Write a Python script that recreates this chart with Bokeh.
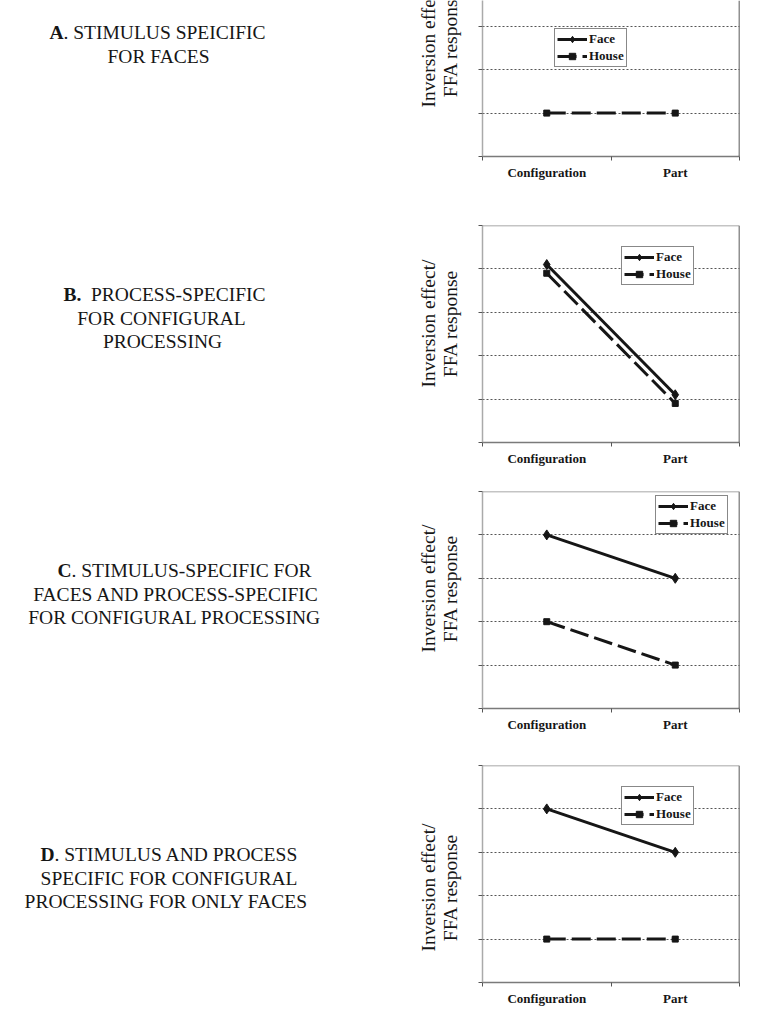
import math
from bokeh.plotting import figure
from bokeh.models import (Range1d, FixedTicker, LinearAxis, Legend, LegendItem,
                          ColumnDataSource, Grid, Span)
from bokeh.layouts import row, column
from bokeh.embed import file_html
from bokeh.resources import INLINE
from bokeh.core.properties import value

# ---------------- data ----------------
categories = ["Configuration", "Part"]
face_a = [4.0, 4.0]      # above the cropped top of panel A
house_a = [1.0, 1.0]
face_b = [4.1, 1.1]
house_b = [3.9, 0.9]
face_c = [4.0, 3.0]
house_c = [2.0, 1.0]
face_d = [4.0, 3.0]
house_d = [1.0, 1.0]
y_ticks = [0, 1, 2, 3, 4, 5]
grid_ticks = [1, 2, 3, 4]
series_names = ["Face", "House"]
ylabel_lines = ["Inversion effect/", "FFA response"]

panel_letters = ["A", "B.", "C", "D"]
panel_first_rest = [". STIMULUS SPEICIFIC", "PROCESS-SPECIFIC",
                    ". STIMULUS-SPECIFIC FOR", ". STIMULUS AND PROCESS"]
panel_more_lines = [["FOR FACES"],
                    ["FOR CONFIGURAL", "PROCESSING"],
                    ["FACES AND PROCESS-SPECIFIC", "FOR CONFIGURAL PROCESSING"],
                    ["SPECIFIC FOR CONFIGURAL", "PROCESSING FOR ONLY FACES"]]

SERIF = "Liberation Serif"
INK = "#161616"
BIG = "19.5px"

# ---------------- chart panels ----------------
n = len(categories)
x_centers = [i + 0.5 for i in range(n)]
x_bounds = list(range(n + 1))


def make_chart(face, house, height, b_top, b_bottom, frame_h, legend_loc, top_border=True):
    y_end = 5 * frame_h / 217.0
    p = figure(width=277, height=height, output_backend="svg", toolbar_location=None,
               x_range=Range1d(0, n), y_range=Range1d(0, y_end),
               x_axis_type=None, y_axis_type=None,
               min_border_left=12, min_border_right=8,
               min_border_top=b_top, min_border_bottom=b_bottom,
               outline_line_color=None,
               background_fill_color="white", border_fill_color="white")

    p.add_layout(Grid(dimension=1, ticker=FixedTicker(ticks=grid_ticks),
                      grid_line_color="#555", grid_line_dash="2 2", grid_line_width=1))

    # right and top borders of the plot area
    p.add_layout(Span(location=n, dimension="height", line_color="#222222",
                      line_width=1.5))
    if top_border:
        p.add_layout(Span(location=y_end, dimension="width", line_color="#8a8a8a",
                          line_width=1.5))

    xa = LinearAxis(ticker=FixedTicker(ticks=x_centers, minor_ticks=x_bounds),
                    major_label_overrides={c: lab for c, lab in zip(x_centers, categories)},
                    axis_line_color="#7a7a7a", axis_line_width=1.5,
                    major_tick_out=0, major_tick_in=0,
                    minor_tick_out=4, minor_tick_in=0, minor_tick_line_color="#555",
                    major_label_text_font=SERIF, major_label_text_font_style="bold",
                    major_label_text_font_size="13px", major_label_text_color=INK,
                    major_label_standoff=4)
    p.add_layout(xa, "below")

    # y axis: tick marks only (minor ticks carry no labels)
    ya = LinearAxis(ticker=FixedTicker(ticks=[], minor_ticks=y_ticks),
                    axis_line_color="#aaaaaa", axis_line_width=1.5,
                    major_tick_out=0, major_tick_in=0,
                    minor_tick_out=4, minor_tick_in=0, minor_tick_line_color="#555",
                    major_label_standoff=0)
    p.add_layout(ya, "left")

    src = ColumnDataSource(dict(x=x_centers, face=face, house=house))
    rf = p.line("x", "face", source=src, line_color=INK, line_width=3)
    mf = p.scatter("x", "face", source=src, marker="diamond", size=10,
                   fill_color=INK, line_color=INK)
    rh = p.line("x", "house", source=src, line_color=INK, line_width=3,
                line_dash="19 6")
    mh = p.scatter("x", "house", source=src, marker="square", size=6,
                   fill_color=INK, line_color=INK)

    leg = Legend(items=[LegendItem(label=series_names[0], renderers=[rf, mf]),
                        LegendItem(label=series_names[1], renderers=[rh, mh])],
                 location=legend_loc, margin=0, padding=2, spacing=1,
                 glyph_width=30, glyph_height=16, label_height=16, label_standoff=2,
                 border_line_color="#111111", border_line_width=1,
                 background_fill_color="white", background_fill_alpha=1.0,
                 label_text_font=SERIF, label_text_font_style="bold",
                 label_text_font_size="13px", label_text_color=INK)
    p.add_layout(leg)
    return p


pa = make_chart(face_a, house_a, 190, 0, 34, 156, (72, 89), top_border=False)
pb = make_chart(face_b, house_b, 280, 35, 28, 217, (139, 157))
pc = make_chart(face_c, house_c, 270, 21, 32, 217, (173, 174))
pd_ = make_chart(face_d, house_d, 270, 25, 28, 217, (139, 157))

# ---------------- left text column ----------------
left = figure(width=470, height=1010, output_backend="svg", toolbar_location=None,
              x_range=Range1d(0, 470), y_range=Range1d(-1010, 0),
              x_axis_type=None, y_axis_type=None, min_border=0,
              outline_line_color=None, background_fill_color="white",
              border_fill_color="white")

letter_x = [49, 63, 57, 40]
rest_x = [63.0, 90.5, 71.0, 54.0]
first_y = [32, 293.7, 569.7, 853.7]
more_cx = [[158], [161, 162], [175.5, 174], [168.5, 165.7]]
more_y = [[56], [318, 341], [593.7, 617], [878, 901]]
ylab_cy = [43, 323, 588, 887]
ylab_x = [427.5, 449.5]

left.text(x=letter_x, y=[-b for b in first_y], text=panel_letters,
          text_font=value(SERIF), text_font_style="bold", text_font_size=BIG,
          text_align="left", text_baseline="alphabetic", text_color=INK)
left.text(x=rest_x, y=[-b for b in first_y], text=panel_first_rest,
          text_font=value(SERIF), text_font_size=BIG,
          text_align="left", text_baseline="alphabetic", text_color=INK)

mx, my, mt = [], [], []
for cxs, bys, lines in zip(more_cx, more_y, panel_more_lines):
    for cx, by, t in zip(cxs, bys, lines):
        mx.append(cx)
        my.append(-by)
        mt.append(t)
left.text(x=mx, y=my, text=mt, text_font=value(SERIF), text_font_size=BIG,
          text_align="center", text_baseline="alphabetic", text_color=INK)

yx, yy, yt = [], [], []
for cy in ylab_cy:
    for lx, t in zip(ylab_x, ylabel_lines):
        yx.append(lx)
        yy.append(-cy)
        yt.append(t)
left.text(x=yx, y=yy, text=yt, angle=math.pi / 2, text_font=value(SERIF),
          text_font_size=BIG, text_align="center", text_baseline="alphabetic",
          text_color=INK)

layout = row(left, column(pa, pb, pc, pd_))

open("out.html", "w").write(file_html(layout, INLINE))
